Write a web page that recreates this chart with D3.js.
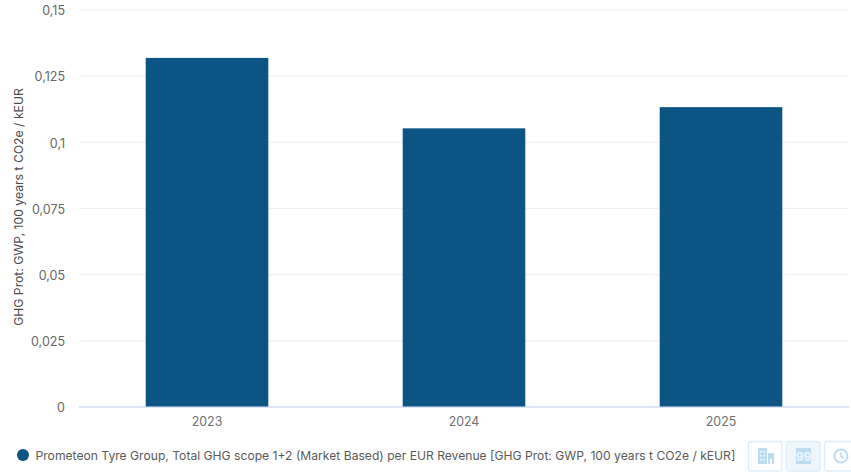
<!DOCTYPE html>
<html>
<head>
<meta charset="utf-8">
<script src="https://cdn.jsdelivr.net/npm/d3@7"></script>
<style>
    html, body { margin: 0; padding: 0; background: #fff; }
    svg { display: block; }
    text { font-family: Inter, "Noto Sans", sans-serif; }
</style>
</head>
<body>
<div id="chart-svg"></div>
<script>
// Chart values
const years = ["2023", "2024", "2025"];
const intensity = [0.1317, 0.1051, 0.1131];
const yTicks = [0, 0.025, 0.05, 0.075, 0.1, 0.125, 0.15];
const yTickLabels = ["0", "0,025", "0,05", "0,075", "0,1", "0,125", "0,15"];
const yAxisTitle = "GHG Prot: GWP, 100 years t CO2e / kEUR";
const legendLabel = "Prometeon Tyre Group, Total GHG scope 1+2 (Market Based) per EUR Revenue [GHG Prot: GWP, 100 years t CO2e / kEUR]";

const width = 851;
const height = 473;
const barColor = "#0b5484";

const svg = d3.select("#chart-svg")
    .append("svg")
    .attr("width", width)
    .attr("height", height);

// Scales
const x = d3.scaleBand()
    .domain(years)
    .range([78.5, 849.5])
    .paddingInner(0.523)
    .paddingOuter(0.2615);

const y = d3.scaleLinear()
    .domain([0, 0.15])
    .range([406.5, 9.5]);

// Gridlines and y labels
const yAxis = d3.axisLeft(y)
    .tickValues(yTicks)
    .tickSize(-(849 - 79))
    .tickPadding(14)
    .tickFormat((d, i) => yTickLabels[i]);

const yGroup = svg.append("g")
    .attr("transform", "translate(79,0)")
    .call(yAxis);

yGroup.select(".domain").remove();
yGroup.selectAll("line")
    .attr("stroke", d => d === 0 ? "#d5ddf0" : "#eff0f3")
    .attr("stroke-width", d => d === 0 ? 1.3 : 1.2);
yGroup.selectAll("text")
    .attr("fill", "#666")
    .attr("dy", "0.42em")
    .style("font-size", "12.5px");

// Bars
svg.append("g")
    .selectAll("rect")
    .data(years)
    .enter().append("rect")
    .attr("x", d => x(d))
    .attr("y", (d, i) => y(intensity[i]))
    .attr("width", x.bandwidth())
    .attr("height", (d, i) => y(0) - y(intensity[i]))
    .attr("fill", barColor);

// Year labels
const xAxis = d3.axisBottom(x).tickSize(0).tickPadding(11);
const xGroup = svg.append("g")
    .attr("transform", "translate(0,406.5)")
    .call(xAxis);
xGroup.select(".domain").remove();
xGroup.selectAll("text")
    .attr("fill", "#6e6e6e")
    .style("font-size", "12.4px");

// Y axis title
svg.append("text")
    .attr("transform", "translate(23,207) rotate(-90)")
    .attr("text-anchor", "middle")
    .attr("fill", "#4d4d4d")
    .style("font-size", "12.2px")
    .text(yAxisTitle);

// Legend
svg.append("circle")
    .attr("cx", 23)
    .attr("cy", 455)
    .attr("r", 6)
    .attr("fill", barColor);

svg.append("text")
    .attr("x", 35.5)
    .attr("y", 460)
    .attr("fill", "#5a5a5a")
    .style("font-size", "12.13px")
    .text(legendLabel);

// Toolbar buttons at the bottom right
const buttonStroke = "#dcedf8";
const iconColor = "#bcdcf2";
const buttons = svg.append("g");

[[748.5, "#fff"], [786.5, "#eef6fc"], [824.5, "#fff"]].forEach(([bx, fill]) => {
    buttons.append("rect")
        .attr("x", bx)
        .attr("y", 441.5)
        .attr("width", 33.5)
        .attr("height", 29.5)
        .attr("rx", 2.5)
        .attr("fill", fill)
        .attr("stroke", buttonStroke)
        .attr("stroke-width", 1.3);
});

// Building icon
buttons.append("rect").attr("x", 758).attr("y", 448).attr("width", 9).attr("height", 16).attr("fill", iconColor);
buttons.append("rect").attr("x", 768).attr("y", 453).attr("width", 6).attr("height", 11).attr("fill", iconColor);
[[760, 451], [763.5, 451], [760, 455], [763.5, 455], [760, 459], [763.5, 459]].forEach(([wx, wy]) => {
    buttons.append("rect").attr("x", wx).attr("y", wy).attr("width", 1.5).attr("height", 1.5).attr("fill", "#fff");
});
buttons.append("rect").attr("x", 770).attr("y", 459).attr("width", 2).attr("height", 5).attr("fill", "#fff");

// Quote icon
buttons.append("rect").attr("x", 796).attr("y", 448).attr("width", 15).attr("height", 16).attr("fill", iconColor);
buttons.append("text")
    .attr("x", 803.5)
    .attr("y", 460.5)
    .attr("text-anchor", "middle")
    .attr("fill", "#eef6fc")
    .style("font-size", "12px")
    .style("font-weight", "700")
    .text("99");

// Clock icon
buttons.append("circle")
    .attr("cx", 841)
    .attr("cy", 456)
    .attr("r", 6.5)
    .attr("fill", "none")
    .attr("stroke", iconColor)
    .attr("stroke-width", 2);
buttons.append("path")
    .attr("d", "M841 452v4.5l3 1.5")
    .attr("fill", "none")
    .attr("stroke", iconColor)
    .attr("stroke-width", 1.5);
</script>
</body>
</html>
